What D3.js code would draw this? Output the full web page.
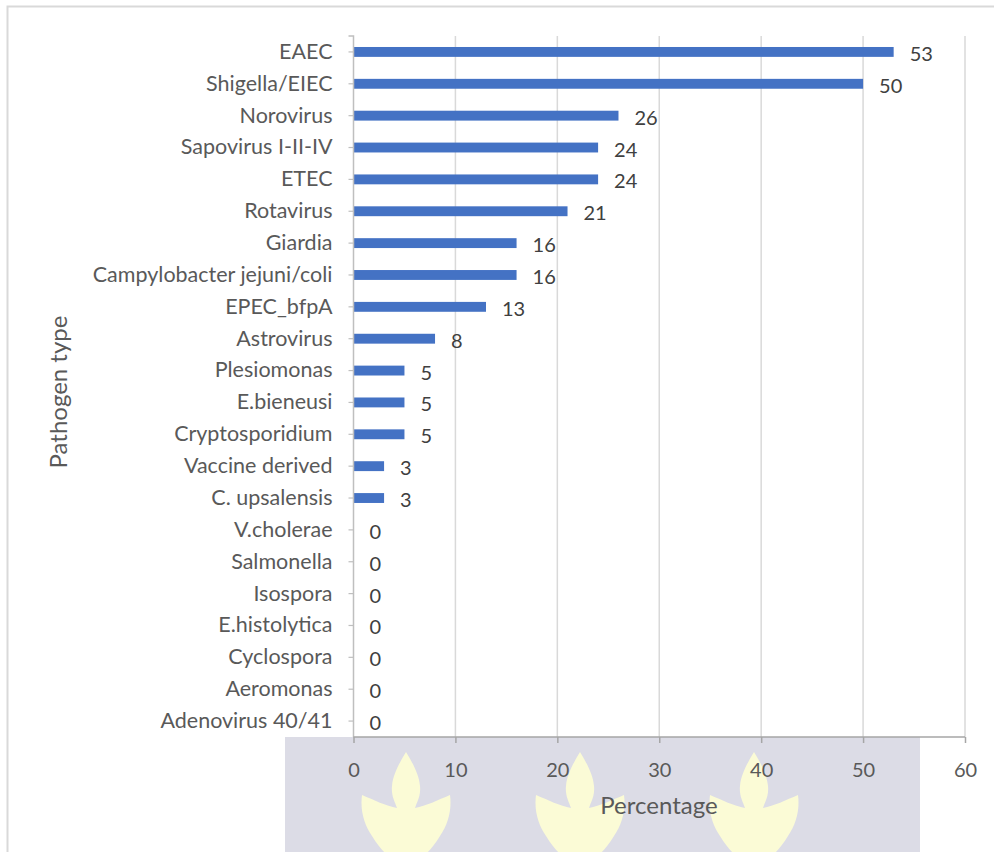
<!DOCTYPE html>
<html>
<head>
<meta charset="utf-8">
<script src="https://cdn.jsdelivr.net/npm/d3@7"></script>
<style>
  html, body { margin: 0; padding: 0; background: #fff; }
  svg { display: block; font-family: Lato, "Open Sans", sans-serif; }
</style>
</head>
<body>
<svg id="chart" width="994" height="852"></svg>
<script>
// Pathogen detection rates (%)
const pathogens = [
  "EAEC", "Shigella/EIEC", "Norovirus", "Sapovirus I-II-IV", "ETEC", "Rotavirus",
  "Giardia", "Campylobacter jejuni/coli", "EPEC_bfpA", "Astrovirus", "Plesiomonas",
  "E.bieneusi", "Cryptosporidium", "Vaccine derived", "C. upsalensis", "V.cholerae",
  "Salmonella", "Isospora", "E.histolytica", "Cyclospora", "Aeromonas", "Adenovirus 40/41"
];
const percentages = [53, 50, 26, 24, 24, 21, 16, 16, 13, 8, 5, 5, 5, 3, 3, 0, 0, 0, 0, 0, 0, 0];
const xTicks = [0, 10, 20, 30, 40, 50, 60];

const svg = d3.select("#chart");
const W = 994, H = 852;
const plot = { left: 353.5, right: 965, top: 36, bottom: 737 };
const FONT = "Lato, 'Open Sans', sans-serif";

// Outer chart frame
svg.append("rect")
  .attr("x", 7.5).attr("y", 6.5)
  .attr("width", W + 20).attr("height", H + 20)
  .attr("fill", "#fff").attr("stroke", "#d9d9d9").attr("stroke-width", 2);

const x = d3.scaleLinear().domain([0, 60]).range([plot.left, plot.right]);
const y = d3.scaleBand().domain(pathogens).range([plot.top, plot.bottom]).paddingInner(0.69).paddingOuter(0.345);

// Background band behind the lower axis area
const band = svg.append("g");
band.append("rect")
  .attr("x", 285).attr("y", 737).attr("width", 635).attr("height", 120)
  .attr("fill", "#dcdce6");
const emblem = "M0,0 C6,10 13,22 14,34 C15,44 11,50 9,56 C20,54 32,48 44,43 C46,58 42,72 34,84 C28,94 22,100 18,104 L-18,104 C-22,100 -28,94 -34,84 C-42,72 -46,58 -44,43 C-32,48 -20,54 -9,56 C-11,50 -15,44 -14,34 C-13,22 -6,10 0,0 Z";
[406, 580, 754].forEach(cx => {
  band.append("path")
    .attr("d", emblem)
    .attr("transform", `translate(${cx},752)`)
    .attr("fill", "#fbfbd6");
});

// Vertical gridlines
svg.append("g")
  .selectAll("line")
  .data(xTicks.slice(1))
  .join("line")
  .attr("x1", d => x(d)).attr("x2", d => x(d))
  .attr("y1", plot.top).attr("y2", plot.bottom)
  .attr("stroke", "#d9d9d9").attr("stroke-width", 1.5);

// Bars
svg.append("g")
  .selectAll("rect")
  .data(pathogens)
  .join("rect")
  .attr("x", x(0))
  .attr("y", d => y(d))
  .attr("width", (d, i) => x(percentages[i]) - x(0))
  .attr("height", y.bandwidth())
  .attr("fill", "#4472c4");

// Value labels
svg.append("g")
  .selectAll("text")
  .data(pathogens)
  .join("text")
  .attr("x", (d, i) => x(percentages[i]) + 16)
  .attr("y", d => y(d) + y.bandwidth() / 2 + 2)
  .attr("dy", "0.35em")
  .attr("font-size", 20)
  .attr("fill", "#404040")
  .text((d, i) => percentages[i]);

// Category axis
const yAxis = svg.append("g")
  .attr("transform", `translate(${plot.left},0)`)
  .call(d3.axisLeft(y).tickSize(5).tickPadding(16));
yAxis.select(".domain").attr("stroke", "#bfbfbf").attr("stroke-width", 1.5)
  .attr("d", `M-5,${plot.top}H0V${plot.bottom}`);
yAxis.selectAll(".tick line").attr("stroke", "#bfbfbf").attr("stroke-width", 1.2);
yAxis.selectAll(".tick text").attr("font-size", 21.5).attr("fill", "#595959")
  .attr("font-family", FONT);

// Value axis
const xAxis = svg.append("g")
  .attr("transform", `translate(0,${plot.bottom})`)
  .call(d3.axisBottom(x).tickValues(xTicks).tickSize(6));
xAxis.select(".domain").attr("stroke", "#a6a6a6").attr("stroke-width", 1.5)
  .attr("d", `M${plot.left},0H${plot.right}`);
xAxis.selectAll(".tick line").attr("stroke", "#a6a6a6").attr("stroke-width", 1.5);
xAxis.selectAll(".tick text").attr("font-size", 20).attr("fill", "#595959")
  .attr("font-family", FONT).attr("y", 33).attr("dy", "0.35em");

// Axis titles
svg.append("text")
  .attr("x", 659).attr("y", 806).attr("dy", "0.35em")
  .attr("text-anchor", "middle").attr("font-size", 24).attr("fill", "#595959")
  .text("Percentage");
svg.append("text")
  .attr("transform", "translate(59,392) rotate(-90)")
  .attr("dy", "0.35em")
  .attr("text-anchor", "middle").attr("font-size", 24).attr("fill", "#595959")
  .text("Pathogen type");
</script>
</body>
</html>
